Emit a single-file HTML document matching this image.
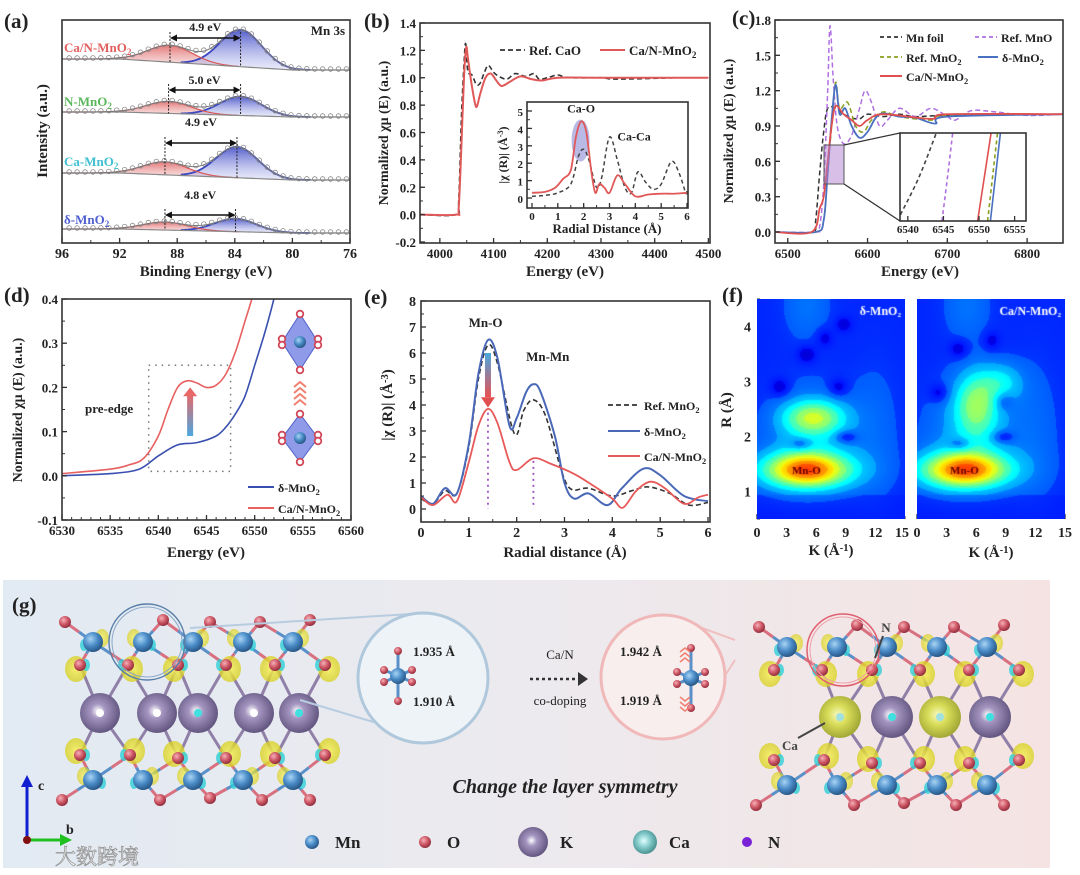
<!DOCTYPE html>
<html><head><meta charset="utf-8">
<style>
body{margin:0;background:#fff}
#root{position:relative;width:1080px;height:875px;overflow:hidden;background:#fff}
svg text{font-family:"Liberation Serif","Noto Serif CJK SC",serif;font-weight:bold;fill:#222}
canvas{position:absolute}
</style></head>
<body>
<div id="root">
<svg id="s" width="1080" height="875" viewBox="0 0 1080 875" xmlns="http://www.w3.org/2000/svg" style="position:absolute;left:0;top:0">
<defs>
<linearGradient id="gbg" x1="0" x2="1" y1="0" y2="0"><stop offset="0" stop-color="#e2eaf3"/><stop offset="0.5" stop-color="#eceaee"/><stop offset="1" stop-color="#f5e3e3"/></linearGradient>
<linearGradient id="redFill" x1="0" x2="0" y1="0" y2="1"><stop offset="0" stop-color="#e06868" stop-opacity="0.9"/><stop offset="1" stop-color="#f0b0b0" stop-opacity="0.35"/></linearGradient>
<linearGradient id="blueFill" x1="0" x2="0" y1="0" y2="1"><stop offset="0" stop-color="#4a55c8" stop-opacity="0.95"/><stop offset="1" stop-color="#c0c4f0" stop-opacity="0.35"/></linearGradient>
<linearGradient id="arrUp" x1="0" x2="0" y1="1" y2="0"><stop offset="0" stop-color="#4aa8e0"/><stop offset="1" stop-color="#e86868"/></linearGradient>
<linearGradient id="arrDown" x1="0" x2="0" y1="0" y2="1"><stop offset="0" stop-color="#4aa8e0"/><stop offset="1" stop-color="#e85050"/></linearGradient>
<radialGradient id="gMn" cx="0.38" cy="0.35" r="0.7"><stop offset="0" stop-color="#a8d4f4"/><stop offset="0.5" stop-color="#4a8cc8"/><stop offset="1" stop-color="#24507e"/></radialGradient>
<radialGradient id="gO" cx="0.38" cy="0.35" r="0.7"><stop offset="0" stop-color="#f4b0b8"/><stop offset="0.5" stop-color="#d05a68"/><stop offset="1" stop-color="#8a2838"/></radialGradient>
<radialGradient id="gK" cx="0.45" cy="0.45" r="0.6"><stop offset="0" stop-color="#ffffff"/><stop offset="0.3" stop-color="#a496c0"/><stop offset="1" stop-color="#5a4e78"/></radialGradient>
<radialGradient id="gCa" cx="0.45" cy="0.45" r="0.6"><stop offset="0" stop-color="#f8fac0"/><stop offset="0.4" stop-color="#d8dc58"/><stop offset="1" stop-color="#9aa030"/></radialGradient>
<radialGradient id="gCaL" cx="0.45" cy="0.45" r="0.6"><stop offset="0" stop-color="#e0ffff"/><stop offset="0.5" stop-color="#80c8c8"/><stop offset="1" stop-color="#408888"/></radialGradient>
<radialGradient id="gY" cx="0.5" cy="0.5" r="0.5"><stop offset="0" stop-color="#f6f060"/><stop offset="1" stop-color="#d8d020" stop-opacity="0.85"/></radialGradient>
<clipPath id="clipC"><rect x="900" y="133" width="126" height="88"/></clipPath>
<clipPath id="clipD"><rect x="62" y="299" width="289" height="221"/></clipPath>
</defs>
</svg>
<canvas id="hm1" width="148" height="220" style="left:757px;top:299px"></canvas>
<canvas id="hm2" width="148" height="220" style="left:917px;top:299px"></canvas>
</div>
<script>
// ===== DATA =====
const aLabels=['Ca/N-MnO2','N-MnO2','Ca-MnO2','δ-MnO2'];
const aSplits=['4.9 eV','5.0 eV','4.9 eV','4.8 eV'];
const aBaseLeft=[184,131,70,14];
const aBaseRight=[173,126,63,10];
const aRedCenter=[88.5,88.6,88.85,88.85];
const aBlueCenter=[83.6,83.6,83.85,83.95];
const aRedHeight=[17,12,13,8];
const aBlueHeight=[37,19,31,13];
const aXTicks=[96,92,88,84,80,76];
const bCaNx=[3963,4030,4035,4040,4045,4049,4052,4058,4065,4069,4075,4085,4095,4105,4115,4130,4150,4170,4190,4220,4300,4400,4500];
const bCaNy=[0,0,0.05,0.5,1.0,1.22,1.15,0.98,0.82,0.79,0.88,1.0,1.03,0.98,0.94,0.97,1.01,0.99,0.98,1.0,1.0,1.0,1.0];
const bCaOx=[3963,4030,4035,4040,4045,4048,4052,4060,4068,4075,4082,4090,4100,4110,4125,4140,4160,4175,4185,4200,4220,4240,4300,4330,4440];
const bCaOy=[0,0,0.1,0.7,1.1,1.25,1.05,1.02,0.95,0.96,1.03,1.09,1.04,1.01,0.99,1.03,1.01,1.03,0.99,1.0,1.02,1.0,1.0,0.99,1.0];
const bXTicks=[4000,4100,4200,4300,4400,4500];
const bYTicks=[-0.2,0,0.2,0.4,0.6,0.8,1.0,1.2,1.4];
const biR=[0,0.5,0.9,1.2,1.5,1.7,1.9,2.1,2.3,2.45,2.6,2.8,3.0,3.3,3.6,4.0,4.5,5.0,5.5,6.0];
const biCaN=[0.3,0.35,0.6,1.1,1.6,3.5,4.4,3.8,1.5,0.3,0.8,0.6,0.3,1.3,0.8,0.1,0.2,0.25,0.25,0.3];
const biRo=[0,0.5,1.0,1.5,1.8,2.0,2.2,2.5,2.7,3.0,3.3,3.6,3.85,4.1,4.4,4.7,5.0,5.4,5.7,5.95,6.0];
const biCaO=[0.1,0.15,0.3,0.8,2.4,2.8,2.2,0.6,1.2,3.5,2.2,0.6,0.3,1.5,0.9,0.5,0.8,2.1,1.4,0.3,0.4];
const cFoilX=[6484,6530,6535,6540,6545,6550,6560,6570,6580,6590,6600,6620,6640,6660,6700,6845];
const cFoilY=[0,0,0.1,0.5,0.85,1.05,1.05,1.0,0.97,0.96,1.0,0.98,1.0,0.98,0.99,1.0];
const cMnOX=[6484,6535,6540,6545,6550,6553,6557,6562,6570,6580,6590,6597,6605,6615,6625,6640,6660,6680,6700,6710,6730,6760,6800,6845];
const cMnOY=[0,0,0.05,0.4,1.2,1.75,1.3,0.9,0.75,0.82,1.05,1.2,1.1,0.9,0.95,1.05,0.98,1.05,0.98,0.95,1.03,1.02,0.99,1.0];
const cMnO2X=[6484,6535,6545,6550,6555,6560,6565,6575,6585,6595,6605,6620,6640,6680,6700,6845];
const cMnO2Y=[0,0,0.1,0.5,0.9,1.27,1.05,1.1,0.9,0.85,0.95,1.02,0.98,0.95,0.99,1.0];
const cDeltaX=[6484,6535,6545,6550,6555,6560,6565,6572,6580,6590,6600,6615,6640,6660,6685,6700,6845];
const cDeltaY=[0,0,0.1,0.5,0.95,1.25,1.0,1.05,0.9,0.8,0.85,1.0,0.98,0.97,0.92,0.98,1.0];
const cCaNX=[6484,6530,6540,6545,6550,6555,6560,6570,6580,6590,6600,6620,6680,6700,6845];
const cCaNY=[0,0,0.2,0.3,0.6,0.9,1.07,1.0,0.95,0.9,0.95,1.0,0.96,1.0,1.0];
const cXTicks=[6500,6600,6700,6800];
const cYTicks=[0,0.3,0.6,0.9,1.2,1.5,1.8];
const ciTicks=[6540,6545,6550,6555];
const ciFoil=[[6538.5,0.41],[6541.5,0.57],[6544,0.74]];
const ciMnO=[[6544.8,0.41],[6545.6,0.58],[6546.3,0.74]];
const ciCaN=[[6549.8,0.41],[6551.7,0.74]];
const ciMnO2=[[6551.2,0.41],[6552.6,0.74]];
const ciDelta=[[6551.6,0.41],[6553.0,0.74]];
const dRedX=[6530,6535,6537,6538.5,6540,6541,6542,6543,6544,6545,6546,6547,6548,6549,6549.7,6550.3];
const dRedY=[0.005,0.015,0.025,0.04,0.09,0.15,0.2,0.215,0.21,0.2,0.205,0.23,0.28,0.35,0.4,0.45];
const dBlueX=[6530,6535,6538,6540,6542,6544,6546,6547,6548,6549,6550,6551,6552,6552.5];
const dBlueY=[0.0,0.005,0.015,0.045,0.07,0.075,0.09,0.11,0.14,0.18,0.25,0.32,0.4,0.45];
const dXTicks=[6530,6535,6540,6545,6550,6555,6560];
const dYTicks=[-0.1,0,0.1,0.2,0.3,0.4];
const eDeltaR=[0,0.25,0.5,0.75,1.0,1.2,1.4,1.6,1.85,2.0,2.2,2.35,2.5,2.8,3.0,3.2,3.5,3.9,4.2,4.65,5.0,5.5,6.0];
const eDeltaV=[0.5,0.2,0.8,0.6,2.5,5.2,6.5,5.8,3.2,3.5,4.5,4.8,4.5,2.8,1.0,0.4,0.6,0.15,0.8,1.55,1.3,0.5,0.3];
const eRefR=[0,0.25,0.5,0.75,1.0,1.2,1.4,1.6,1.95,2.15,2.35,2.6,2.95,3.15,3.5,4.0,4.4,4.75,5.2,5.6,6.0];
const eRefV=[0.4,0.2,0.7,0.6,2.4,5.0,6.3,5.6,2.9,3.8,4.2,3.6,1.4,0.75,0.8,0.5,0.7,0.85,0.6,0.15,0.25];
const eCaNR=[0,0.25,0.55,0.75,1.0,1.2,1.4,1.6,1.85,2.0,2.35,2.7,3.2,3.6,4.0,4.22,4.5,4.8,5.1,5.5,5.8,6.0];
const eCaNV=[0.45,0.15,0.55,0.3,1.8,3.2,3.85,3.3,1.8,1.5,1.95,1.75,1.35,0.9,0.4,0.05,0.7,1.05,0.8,0.2,0.45,0.55];
const eXTicks=[0,1,2,3,4,5,6];
const eYTicks=[0,1,2,3,4,5,6,7,8];
const fDeltaK=[5.0,5.0,5.7,5.5,5.0,12,2.3,8.2,4.4,9.0,5.0,6.8,8.7];
const fDeltaR=[1.4,1.4,2.35,2.2,4.4,2.2,2.9,2.9,1.87,2.0,3.5,3.8,4.05];
const fDeltaA=[0.52,0.1,0.32,0.1,0.08,0.05,-0.1,-0.1,-0.12,-0.12,-0.1,-0.08,-0.08];
const fCaNK=[4.8,4.8,6.0,8.6,5.5,5.0,12,2.2,8.7,4.3,8.7,4.2,7.5];
const fCaNR=[1.4,1.4,2.6,3.0,2.3,4.4,2.2,2.8,2.65,1.87,2.0,3.6,3.75];
const fCaNA=[0.52,0.1,0.27,0.15,0.12,0.08,0.05,-0.1,-0.1,-0.12,-0.12,-0.1,-0.08];
const fSK=[3.0,4.5,2.2,3.2,1.8,2,0.7,0.7,0.8,0.8,0.7,0.6,0.6];
const fSR=[0.22,0.4,0.22,0.6,0.5,1.0,0.12,0.12,0.08,0.08,0.12,0.12,0.1];
const fSK2=[3.0,4.5,1.5,1.5,3.2,1.8,2,0.7,0.7,0.8,0.8,0.7,0.6];
const fSR2=[0.22,0.4,0.42,0.25,0.6,0.5,1.0,0.12,0.12,0.08,0.08,0.12,0.12];
const fKTicks=[0,3,6,9,12,15];
const fRTicks=[1,2,3,4];

// ===== HELPERS =====
const NS='http://www.w3.org/2000/svg';
const S=document.getElementById('s');
function mk(tag,attrs,parent){const e=document.createElementNS(NS,tag);for(const k in attrs)e.setAttribute(k,attrs[k]);(parent||S).appendChild(e);return e;}
function lin(d0,d1,r0,r1){return v=>r0+(v-d0)*(r1-r0)/(d1-d0);}
function smooth(p){let d='M'+p[0][0].toFixed(1)+','+p[0][1].toFixed(1);for(let i=0;i<p.length-1;i++){const p0=p[i-1]||p[i],p1=p[i],p2=p[i+1],p3=p[i+2]||p2;const c1=[p1[0]+(p2[0]-p0[0])/6,p1[1]+(p2[1]-p0[1])/6],c2=[p2[0]-(p3[0]-p1[0])/6,p2[1]-(p3[1]-p1[1])/6];d+='C'+c1[0].toFixed(1)+','+c1[1].toFixed(1)+' '+c2[0].toFixed(1)+','+c2[1].toFixed(1)+' '+p2[0].toFixed(1)+','+p2[1].toFixed(1);}return d;}
function txt(x,y,html,size,anchor,parent,extra){const e=mk('text',Object.assign({x:x,y:y,'font-size':size,'text-anchor':anchor||'start'},extra||{}),parent);e.innerHTML=html;return e;}
const SUB2='<tspan font-size="70%" dy="3">2</tspan>';
function frame(x0,y0,x1,y1,parent){return mk('rect',{x:x0,y:y0,width:x1-x0,height:y1-y0,fill:'none',stroke:'#333','stroke-width':1.6},parent);}
function xAxis(g,sx,yb,vals,fmt,minorStep,lo,hi,ly,size){vals.forEach(v=>{const x=sx(v);mk('line',{x1:x,x2:x,y1:yb,y2:yb-5,stroke:'#333','stroke-width':1.3},g);const t=txt(x,ly,fmt(v),size||14,'middle',g);

});
if(minorStep){for(let v=lo;v<=hi+1e-9;v+=minorStep){const x=sx(v);mk('line',{x1:x,x2:x,y1:yb,y2:yb-3,stroke:'#333','stroke-width':1},g);}}}
function yAxis(g,sy,xl,vals,fmt,minorStep,lo,hi,lx,size){vals.forEach(v=>{const y=sy(v);mk('line',{x1:xl,x2:xl+5,y1:y,y2:y,stroke:'#333','stroke-width':1.3},g);const t=txt(lx,y+5,fmt(v),size||14,'end',g);

});
if(minorStep){for(let v=lo;v<=hi+1e-9;v+=minorStep){const y=sy(v);mk('line',{x1:xl,x2:xl+3,y1:y,y2:y,stroke:'#333','stroke-width':1},g);}}}
function ytitle(x,y,html,size,g){const t=txt(x,y,html,size,'middle',g,{transform:'rotate(-90 '+x+' '+y+')'});

return t;}
function xtitle(x,y,html,size,g){const t=txt(x,y,html,size,'middle',g);

return t;}
function plabel(x,y,s){const t=txt(x,y,s,21,'start');

}
function series(g,xs,ys,sx,sy,color,w,dash,name){const p=xs.map((x,i)=>[sx(x),sy(ys[i])]);const e=mk('path',{d:smooth(p),fill:'none',stroke:color,'stroke-width':w,'stroke-dasharray':dash||'none'},g);

return e;}
function legendLine(g,x,y,len,color,dash,w,label,size){mk('line',{x1:x,x2:x+len,y1:y,y2:y,stroke:color,'stroke-width':w||2,'stroke-dasharray':dash||'none'},g);const t=txt(x+len+4,y+5,label,size||13,'start',g);

}
function group(name){const g=mk('g',{});

return g;}

const gG=group('panel-g-structures');
mk('rect',{x:3,y:580,width:1047,height:288,fill:'url(#gbg)'},gG);

// ===== PANEL A =====
(function(){const g=group('panel-a-xps');
const sx=lin(96,76,62,350), sy=lin(0,223,243,20);
const gauss=(x,c,h,s)=>h*Math.exp(-(x-c)*(x-c)/(2*s*s));
for(let i=0;i<4;i++){
 const bg=x=>{const f=Math.min(1,Math.max(0,(x-80)/12));return aBaseRight[i]+(aBaseLeft[i]-aBaseRight[i])*f;};
 const xs=[];for(let x=96;x>=76-1e-9;x-=0.25)xs.push(x);
 const redTop=xs.filter(x=>x>83.5).map(x=>[sx(x),sy(bg(x)+gauss(x,aRedCenter[i],aRedHeight[i],1.55))]);
 const redBot=xs.filter(x=>x>83.5).map(x=>[sx(x),sy(bg(x))]).reverse();
 let e=mk('path',{d:'M'+redTop.map(p=>p.join(',')).join('L')+'L'+redBot.map(p=>p.join(',')).join('L')+'Z',fill:'url(#redFill)',stroke:'none'},g);
 
 
 const bx=xs.filter(x=>x<88&&x>78.5);
 const blueTop=bx.map(x=>[sx(x),sy(bg(x)+gauss(x,aBlueCenter[i],aBlueHeight[i],1.45))]);
 const blueBot=bx.map(x=>[sx(x),sy(bg(x))]).reverse();
 e=mk('path',{d:'M'+blueTop.map(p=>p.join(',')).join('L')+'L'+blueBot.map(p=>p.join(',')).join('L')+'Z',fill:'url(#blueFill)',stroke:'none'},g);
 
 
 mk('path',{d:'M'+blueTop.map(p=>p.join(',')).join('L'),fill:'none',stroke:'#3a48c0','stroke-width':1.8},g);
 mk('path',{d:'M'+redTop.map(p=>p.join(',')).join('L'),fill:'none',stroke:'#d85858','stroke-width':1.2},g);
 mk('path',{d:'M'+xs.map(x=>sx(x)+','+sy(bg(x))).join('L'),fill:'none',stroke:'#888','stroke-width':1.2},g);
 const env=x=>bg(x)+gauss(x,aRedCenter[i],aRedHeight[i],1.55)+gauss(x,aBlueCenter[i],aBlueHeight[i],1.45);
 mk('path',{d:'M'+xs.map(x=>sx(x)+','+sy(env(x))).join('L'),fill:'none',stroke:'#777','stroke-width':1},g);
 for(let x=95.5;x>76;x-=0.55){mk('circle',{cx:sx(x),cy:sy(env(x))-1,r:2.3,fill:'none',stroke:'#888','stroke-width':0.8},g);}
 const rc=sx(aRedCenter[i]),bc=sx(aBlueCenter[i]);const ay=[38,90,143,215][i];
 mk('line',{x1:rc,x2:rc,y1:ay-6,y2:sy(bg(aRedCenter[i])),stroke:'#222','stroke-width':1,'stroke-dasharray':'2,1.5'},g);
 mk('line',{x1:bc,x2:bc,y1:ay-6,y2:sy(bg(aBlueCenter[i])),stroke:'#222','stroke-width':1,'stroke-dasharray':'2,1.5'},g);
 mk('line',{x1:rc+6,x2:bc-6,y1:ay,y2:ay,stroke:'#111','stroke-width':1.4},g);
 mk('path',{d:`M${rc} ${ay}l7 -3.5v7z M${bc} ${ay}l-7 -3.5v7z`,fill:'#111'},g);
 let t=txt((rc+bc)/2,[31,84,126,199][i],aSplits[i],12,'middle',g);
 
 
 const cols=['#e06060','#5cb85c','#40c0d0','#5060d0'];
 const lab=aLabels[i].replace('MnO2','MnO'+SUB2);
 t=txt(64,[52,106,166,224][i],lab,13,'start',g,{style:'fill:'+cols[i]});
 
 
}
frame(62,20,350,243,g);
xAxis(g,sx,243,aXTicks,v=>v,2,76,96,258,14);
let t=txt(345,35,'Mn 3s',13,'end',g);


ytitle(47,131,'Intensity (a.u.)',15,g);
xtitle(206,276,'Binding Energy (eV)',15,g);
})();
plabel(4,28,'(a)');

// ===== PANEL B =====
(function(){const g=group('panel-b-ca-xanes');
const sx=lin(3963,4503,420,710), sy=lin(-0.2,1.4,242,23);
series(g,bCaOx,bCaOy,sx,sy,'#333',1.6,'5,3','ref-cao-line');
series(g,bCaNx,bCaNy,sx,sy,'#e05858',2,null,'can-mno2-line');
frame(420,23,710,243,g);
xAxis(g,sx,243,bXTicks,v=>v,50,4000,4500,258,13);
yAxis(g,sy,420,bYTicks,v=>v.toFixed(1),0.1,-0.2,1.4,416,13);
ytitle(388,133,'Normalized χμ (E) (a.u.)',14,g);
xtitle(565,276,'Energy (eV)',15,g);
legendLine(g,500,50,25,'#333','5,3',1.8,'Ref. CaO',13);
legendLine(g,600,50,25,'#e05858',null,2,'Ca/N-MnO'+SUB2,13);
const ix=lin(0,6,532,687), iy=lin(0,5,198,111);
mk('rect',{x:527,y:102,width:161,height:106,fill:'#fff'},g);
mk('ellipse',{cx:ix(1.88),cy:iy(3.3),rx:9,ry:21,fill:'#8080d0','fill-opacity':0.55},g);
series(g,biRo,biCaO,ix,iy,'#444',1.5,'4,3','inset-ref-cao-line');
series(g,biR,biCaN,ix,iy,'#e05858',1.8,null,'inset-can-line');
frame(527,102,688,208,g);
xAxis(g,ix,208,[0,1,2,3,4,5,6],v=>v,0.5,0,6,220,11);
yAxis(g,iy,527,[0,1,2,3,4,5],v=>v,0.5,0,5,523,11);
ytitle(507,155,'|χ (R)| (Å<tspan font-size="70%" dy="-4">-3</tspan><tspan dy="4">)</tspan>',12,g);
xtitle(607,233,'Radial Distance (Å)',13,g);
let t=txt(ix(1.9),iy(4.9),'Ca-O',12,'middle',g);


t=txt(ix(3.95),iy(3.3),'Ca-Ca',12,'middle',g);


})();
plabel(364,28,'(b)');

// ===== PANEL C =====
(function(){const g=group('panel-c-mn-xanes');
const sx=lin(6484,6845,775,1063), sy=lin(0,1.8,232,20);
series(g,cFoilX,cFoilY,sx,sy,'#333',1.5,'5,3','mn-foil-line');
series(g,cMnOX,cMnOY,sx,sy,'#b070e0',1.5,'5,3','ref-mno-line');
series(g,cMnO2X,cMnO2Y,sx,sy,'#8aa020',1.5,'5,3','ref-mno2-line');
series(g,cDeltaX,cDeltaY,sx,sy,'#4a70c0',1.8,null,'delta-mno2-line');
series(g,cCaNX,cCaNY,sx,sy,'#e05050',1.8,null,'can-mno2-line');
frame(775,20,1063,243,g);
xAxis(g,sx,243,cXTicks,v=>v,50,6500,6800,258,13);
yAxis(g,sy,775,cYTicks,v=>v.toFixed(1),0.15,0,1.8,771,13);
ytitle(733,131,'Normalized χμ (E) (a.u.)',14,g);
xtitle(920,276,'Energy (eV)',15,g);
legendLine(g,880,37,22,'#333','4,3',1.8,'Mn foil',12);
legendLine(g,975,37,22,'#b070e0','4,3',1.8,'Ref. MnO',12);
legendLine(g,880,57,22,'#8aa020','4,3',1.8,'Ref. MnO'+SUB2,12);
legendLine(g,978,57,20,'#4a70c0',null,2,'δ-MnO'+SUB2,12);
legendLine(g,880,76,22,'#e05050',null,2,'Ca/N-MnO'+SUB2,12);
const zr=mk('rect',{x:824,y:145,width:20,height:39,fill:'#b080d0','fill-opacity':0.5,stroke:'#555','stroke-width':1},g);


mk('line',{x1:844,y1:145,x2:900,y2:133,stroke:'#333','stroke-width':1.3},g);
mk('line',{x1:844,y1:184,x2:900,y2:221,stroke:'#333','stroke-width':1.3},g);
mk('rect',{x:900,y:133,width:126,height:88,fill:'#fff'},g);
const ix=lin(6538.9,6556.6,900,1026), iy=lin(0.41,0.74,221,133);
const ci=mk('g',{'clip-path':'url(#clipC)'},g);
const pl=(arr,c,d,n)=>series(ci,arr.map(p=>p[0]),arr.map(p=>p[1]),ix,iy,c,1.6,d,n);
pl(ciFoil,'#444','4,3','inset-foil');pl(ciMnO,'#b070e0','4,3','inset-mno');pl(ciMnO2,'#8aa020','4,3','inset-mno2');pl(ciDelta,'#4a70c0',null,'inset-delta');pl(ciCaN,'#e05050',null,'inset-can');
frame(900,133,1026,221,g);
xAxis(g,ix,221,ciTicks,v=>v,null,0,0,233,11);
})();
plabel(732,25,'(c)');

// ===== PANEL D =====
(function(){const g=group('panel-d-preedge');
const sx=lin(6530,6560,62,351), sy=lin(-0.1,0.4,520,299);
const cg=mk('g',{'clip-path':'url(#clipD)'},g);
series(cg,dRedX,dRedY,sx,sy,'#e86060',1.6,null,'can-mno2-line');
series(cg,dBlueX,dBlueY,sx,sy,'#3a50b0',1.6,null,'delta-mno2-line');
frame(62,299,351,520,g);
xAxis(g,sx,520,dXTicks,v=>v,1,6530,6560,535,13);
yAxis(g,sy,62,dYTicks,v=>v.toFixed(1),0.05,-0.1,0.4,58,13);
ytitle(22,410,'Normalized χμ (E) (a.u.)',14,g);
xtitle(206,557,'Energy (eV)',15,g);
const b=mk('rect',{x:sx(6539),y:sy(0.25),width:sx(6547.5)-sx(6539),height:sy(0.01)-sy(0.25),fill:'none',stroke:'#777','stroke-width':1.5,'stroke-dasharray':'1.5,5'},g);


let t=txt(85,413,'pre-edge',13,'start',g);


const ax=sx(6543.3);
mk('rect',{x:ax-3,y:sy(0.185),width:6,height:sy(0.09)-sy(0.185),fill:'url(#arrUp)'},g);
mk('path',{d:`M${ax-7} ${sy(0.18)}L${ax} ${sy(0.2)}L${ax+7} ${sy(0.18)}Z`,fill:'#e86868'},g);
legendLine(g,248,487,26,'#3a50b0',null,2,'δ-MnO'+SUB2,12);
legendLine(g,248,508,26,'#e86060',null,2,'Ca/N-MnO'+SUB2,12);
[[300,342,28,18],[300,438,24,18]].forEach(o=>{const [cx,cy,h,w]=o;const og=mk('g',{},g);


mk('polygon',{points:`${cx},${cy-h} ${cx+w},${cy} ${cx},${cy+h} ${cx-w},${cy}`,fill:'#6070e0','fill-opacity':0.7,stroke:'#5060c8','stroke-width':1},og);
mk('circle',{cx:cx,cy:cy,r:6,fill:'url(#gMn)'},og);
[[0,-h],[0,h],[-w,-3],[-w,3],[w,-3],[w,3]].forEach(d=>mk('circle',{cx:cx+d[0],cy:cy+d[1],r:3.3,fill:'#fff',stroke:'#d04858','stroke-width':1.8},og));});
for(let k=0;k<4;k++){mk('path',{d:`M294 ${387+k*6}l6 -5l6 5`,fill:'none',stroke:'#f08070','stroke-width':2},g);}
})();
plabel(4,302,'(d)');

// ===== PANEL E =====
(function(){const g=group('panel-e-ftexafs');
const sx=lin(0,6,421,708), sy=lin(0,8,509,301);
series(g,eRefR,eRefV,sx,sy,'#333',1.6,'5,3','ref-mno2-line');
series(g,eDeltaR,eDeltaV,sx,sy,'#4a68b8',2,null,'delta-mno2-line');
series(g,eCaNR,eCaNV,sx,sy,'#e85858',1.8,null,'can-mno2-line');
mk('line',{x1:sx(1.4),x2:sx(1.4),y1:sy(3.7),y2:sy(0),stroke:'#a050c0','stroke-width':1.8,'stroke-dasharray':'2,4'},g);
mk('line',{x1:sx(2.35),x2:sx(2.35),y1:sy(1.85),y2:sy(0),stroke:'#a050c0','stroke-width':1.8,'stroke-dasharray':'2,4'},g);
const ax=sx(1.4);
mk('rect',{x:ax-3,y:sy(6.0),width:6,height:sy(4.3)-sy(6.0),fill:'url(#arrDown)'},g);
mk('path',{d:`M${ax-7} ${sy(4.3)}L${ax} ${sy(3.9)}L${ax+7} ${sy(4.3)}Z`,fill:'#e05050'},g);
frame(421,301,710,522,g);
xAxis(g,sx,522,eXTicks,v=>v,0.5,0,6,537,14);
yAxis(g,sy,421,eYTicks,v=>v,0.5,0,8,416,14);
ytitle(392,405,'|χ (R)| (Å<tspan font-size="70%" dy="-4">-3</tspan><tspan dy="4">)</tspan>',15,g);
xtitle(565,557,'Radial distance (Å)',15,g);
let t=txt(sx(1.35),sy(7.0),'Mn-O',13,'middle',g);


t=txt(sx(2.65),sy(5.7),'Mn-Mn',13,'middle',g);


legendLine(g,608,405,32,'#333','5,3',1.8,'Ref. MnO'+SUB2,12);
legendLine(g,608,431,32,'#4a68b8',null,2,'δ-MnO'+SUB2,12);
legendLine(g,608,456,32,'#e85858',null,2,'Ca/N-MnO'+SUB2,12);
})();
plabel(364,304,'(e)');

// ===== PANEL F =====
(function(){const g=group('panel-f-wavelet');
const sk=lin(0,15,757,905), sk2=lin(0,15,917,1065), sr=lin(0.5,4.5,519,299);
xAxis(g,sk,519,[0,3,6,9,12],v=>v,1.5,0,15,537,14);
txt(902,537,'15',14,'middle',g);
xAxis(g,sk2,519,[0,3,6,9,12,15],v=>v,1.5,0,15,537,14);
yAxis(g,sr,757,fRTicks,v=>v,0.5,0.5,4.5,751,14);
ytitle(731,410,'R (Å)',15,g);
xtitle(831,555,'K (Å<tspan font-size="70%" dy="-4">-1</tspan><tspan dy="4">)</tspan>',15,g);
xtitle(991,557,'K (Å<tspan font-size="70%" dy="-4">-1</tspan><tspan dy="4">)</tspan>',15,g);
})();
plabel(722,302,'(f)');
function jet(v){v=Math.max(0,Math.min(1,v));const c=x=>Math.round(255*Math.max(0,Math.min(1,1.5-Math.abs(4*v-x))));return [c(3),c(2),c(1)];}
function drawHM(id,K,R,A,SKa,SRa,name,label){const cv=document.getElementById(id);


const ctx=cv.getContext('2d');const img=ctx.createImageData(148,220);
for(let py=0;py<220;py++){const r=4.5-py*4/220;for(let px=0;px<148;px++){const k=px*15/148;let v=r<0.95?0.16:0.18;for(let i=0;i<K.length;i++){const dk=(k-K[i])/SKa[i],dr=(r-R[i])/SRa[i];v+=A[i]*Math.exp(-0.5*(dk*dk+dr*dr));}
const q=Math.floor(v*14)/14;const c=jet(0.5*v+0.5*q);const o=(py*148+px)*4;img.data[o]=c[0];img.data[o+1]=c[1];img.data[o+2]=c[2];img.data[o+3]=255;}}
ctx.putImageData(img,0,0);
ctx.font='bold 12px "Liberation Serif", serif';ctx.fillStyle='#fff';ctx.textAlign='right';ctx.fillText(label,144,16);
ctx.fillStyle='#600';ctx.textAlign='center';ctx.font='bold 11px "Liberation Serif", serif';ctx.fillText('Mn-O',(id==='hm1'?5:4.8)*148/15,220-(1.4-0.5)*55+4);}
drawHM('hm1',fDeltaK,fDeltaR,fDeltaA,fSK,fSR,'heatmap-delta-mno2','δ-MnO₂');
drawHM('hm2',fCaNK,fCaNR,fCaNA,fSK2,fSR2,'heatmap-can-mno2','Ca/N-MnO₂');

// ===== PANEL G =====
plabel(12,612,'(g)');
function crystal(dx,dy,spheres,g){
 const MnT=[93,143,193,243,293].map(x=>[x+dx,642+dy]), MnB=[93,143,193,243,293].map(x=>[x+dx,780+dy]);
 const O=[[65,622],[163,620],[210,622],[260,622],[310,620],[80,665],[128,665],[178,665],[226,665],[275,665],[325,665],[80,755],[130,755],[178,758],[226,758],[275,758],[325,755],[62,800],[160,800],[210,798],[262,800],[310,800]].map(p=>[p[0]+dx,p[1]+dy]);
 spheres.forEach(s=>O.forEach(o=>{if(Math.hypot(s[0]-o[0],s[1]-o[1])<62)mk('line',{x1:s[0],y1:s[1],x2:o[0],y2:o[1],stroke:'#9080a8','stroke-width':3},g);}));
 MnT.concat(MnB).forEach(m=>O.forEach(o=>{const d=Math.hypot(m[0]-o[0],m[1]-o[1]);if(d<55){mk('line',{x1:m[0],y1:m[1],x2:(m[0]+o[0])/2,y2:(m[1]+o[1])/2,stroke:'#5a90c8','stroke-width':3},g);mk('line',{x1:(m[0]+o[0])/2,y1:(m[1]+o[1])/2,x2:o[0],y2:o[1],stroke:'#d87080','stroke-width':3},g);}}));
 O.forEach((o,i)=>{if(i>=5&&i<17){mk('ellipse',{cx:o[0]+(i%2?-4:4),cy:o[1]+(i<11?4:-4),rx:11,ry:13,fill:'url(#gY)',opacity:0.9},g);mk('ellipse',{cx:o[0]+(i%2?6:-6),cy:o[1],rx:4,ry:6,fill:'#30d0d8',opacity:0.8},g);}});
 MnT.concat(MnB).forEach((m,i)=>{mk('ellipse',{cx:m[0]+(i%2?-9:9),cy:m[1]-4,rx:7,ry:9,fill:'url(#gY)',opacity:0.8},g);mk('ellipse',{cx:m[0]+(i%2?9:-9),cy:m[1]+3,rx:4,ry:6,fill:'#30d0d8',opacity:0.8},g);});
 spheres.forEach(s=>{const e=mk('circle',{cx:s[0],cy:s[1],r:s[2],fill:s[3]},g);
 
 
 mk('circle',{cx:s[0],cy:s[1],r:4,fill:s[4]},g);});
 MnT.concat(MnB).forEach(m=>{const e=mk('circle',{cx:m[0],cy:m[1],r:10,fill:'url(#gMn)'},g);
 
 });
 O.forEach(o=>{const e=mk('circle',{cx:o[0],cy:o[1],r:6,fill:'url(#gO)'},g);
 
 });
}
const gL=group('pristine-structure');
crystal(0,0,[[100,713,20,'url(#gK)','#fff'],[157,713,20,'url(#gK)','#fff'],[198,713,20,'url(#gK)','#40e0e0'],[254,713,20,'url(#gK)','#fff'],[299,713,20,'url(#gK)','#40e0e0']],gL);
mk('circle',{cx:147,cy:642,r:38,fill:'none',stroke:'#5a80a8','stroke-width':1.5},gL);
mk('circle',{cx:147,cy:642,r:35,fill:'none',stroke:'#8aa8c8','stroke-width':1},gL);
const gR=group('doped-structure');
crystal(694,5,[[840,717,21,'url(#gCa)','#a0e0e0'],[892,717,21,'url(#gK)','#40e0e0'],[940,717,21,'url(#gCa)','#a0e0e0'],[990,717,21,'url(#gK)','#40e0e0']],gR);
mk('circle',{cx:843,cy:650,r:36,fill:'none',stroke:'#e06070','stroke-width':1.5},gR);
mk('circle',{cx:843,cy:650,r:33,fill:'none',stroke:'#f0a0a8','stroke-width':1},gR);
let tt=txt(886,632,'N',13,'middle',gR,{style:'fill:#444'});


mk('line',{x1:883,y1:636,x2:875,y2:658,stroke:'#444','stroke-width':2},gR);
tt=txt(790,750,'Ca',13,'middle',gR,{style:'fill:#444'});


mk('line',{x1:798,y1:738,x2:825,y2:723,stroke:'#444','stroke-width':2},gR);
const gM=group('bond-length-comparison');
mk('line',{x1:190,y1:628,x2:410,y2:614,stroke:'#b8cce0','stroke-width':2},gM);
mk('line',{x1:300,y1:700,x2:400,y2:730,stroke:'#b8cce0','stroke-width':2},gM);
mk('line',{x1:735,y1:640,x2:680,y2:620,stroke:'#f0c0c0','stroke-width':2},gM);
mk('line',{x1:735,y1:660,x2:690,y2:730,stroke:'#f0c0c0','stroke-width':2},gM);
mk('circle',{cx:423,cy:678,r:65,fill:'#eef3f8',stroke:'#b0c8dc','stroke-width':3},gM);
mk('circle',{cx:663,cy:677,r:62,fill:'#f8eeee',stroke:'#f0b8b8','stroke-width':3},gM);
function octa(cx,cy,v,g){[[0,-v],[0,v],[-14,-6],[-14,6],[14,-6],[14,6]].forEach(d=>{mk('line',{x1:cx,y1:cy,x2:cx+d[0],y2:cy+d[1],stroke:'#5a90c8','stroke-width':3},g);mk('circle',{cx:cx+d[0],cy:cy+d[1],r:4,fill:'url(#gO)'},g);});mk('circle',{cx:cx,cy:cy,r:8,fill:'url(#gMn)'},g);}
octa(398,676,25,gM);octa(691,678,30,gM);
[['1.935 Å',413,656],['1.910 Å',413,706],['1.942 Å',620,656],['1.919 Å',620,705]].forEach(b=>{const t=txt(b[1],b[2],b[0],13,'start',gM);

});
for(let k=0;k<3;k++){mk('path',{d:`M680 ${652+k*5}l5 -4l5 4`,fill:'none',stroke:'#f08070','stroke-width':1.5},gM);mk('path',{d:`M680 ${697+k*5}l5 4l5 -4`,fill:'none',stroke:'#f08070','stroke-width':1.5},gM);}
tt=txt(560,659,'Ca/N',13,'middle',gM,{style:'font-weight:normal'});


mk('line',{x1:530,y1:679,x2:578,y2:679,stroke:'#333','stroke-width':2.5,'stroke-dasharray':'3,3'},gM);
mk('path',{d:'M578 672l10 7l-10 7z',fill:'#333'},gM);
tt=txt(560,705,'co-doping',13,'middle',gM,{style:'font-weight:normal'});


tt=txt(565,793,'Change the layer symmetry',20,'middle',gM,{'font-style':'italic'});


const gLeg=group('atom-legend');
[[312,'url(#gMn)',7,'Mn'],[425,'url(#gO)',6,'O'],[533,'url(#gK)',15,'K'],[645,'url(#gCaL)',12,'Ca'],[747,'#7a22d8',5,'N']].forEach(a=>{mk('circle',{cx:a[0],cy:842,r:a[2],fill:a[1]},gLeg);const t=txt(a[0]+(a[2]>10?a[2]+12:a[2]+16),848,a[3],17,'start',gLeg);

});
const gAx=group('axis-indicator');
mk('line',{x1:27,y1:840,x2:27,y2:785,stroke:'#1020d0','stroke-width':3},gAx);
mk('path',{d:'M21 787l6 -12l6 12z',fill:'#1020d0'},gAx);
mk('line',{x1:27,y1:840,x2:62,y2:840,stroke:'#20c020','stroke-width':3},gAx);
mk('path',{d:'M60 834l12 6l-12 6z',fill:'#20c020'},gAx);
mk('circle',{cx:27,cy:840,r:4,fill:'#801010'},gAx);
txt(38,790,'c',14,'start',gAx);txt(66,834,'b',14,'start',gAx);
tt=txt(55,864,'大数跨境',21,'start',gAx,{style:'fill:#fff;stroke:#999;stroke-width:0.8;font-weight:normal',"font-family":'"Noto Sans CJK SC",sans-serif'});


</script>
</body></html>
